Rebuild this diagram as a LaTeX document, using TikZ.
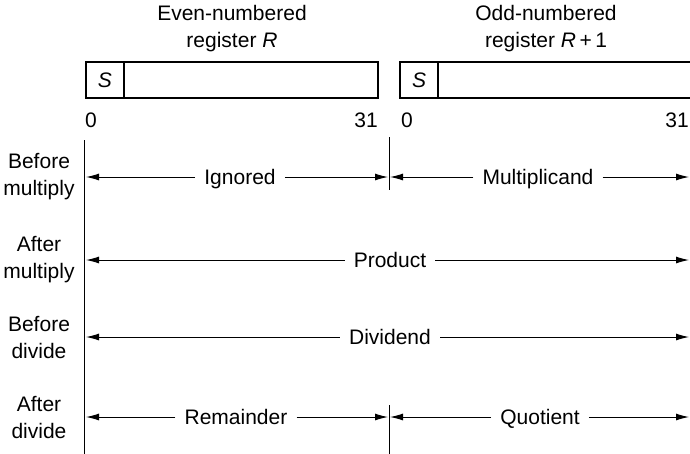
\documentclass[tikz,border=0pt]{standalone}
\usepackage{fontspec}
\setmainfont{Liberation Sans}
\usetikzlibrary{arrows.meta}
\tikzset{
  regbox/.style={line width=1.3pt},
  dimline/.style={line width=1pt,-{Latex[length=13pt,width=7pt]}},
  field/.style={inner xsep=9pt,inner ysep=0pt,text height=15pt,text depth=0pt},
  rowlabel/.style={align=center,inner sep=0pt},
}
\begin{document}
\begin{tikzpicture}[x=1pt,y=-1pt,font=\fontsize{21}{27}\selectfont]
  \useasboundingbox (0,0) rectangle (690,453);
  % register headings
  \node[align=center] (evenhd) at (232,29) {Even-numbered\\register \textit{R}};
  \node[align=center] (oddhd) at (546,29) {Odd-numbered\\register \textit{R}\,+\,1};
  % the two registers
  \draw[regbox] (86,62) rectangle (378,98);
  \draw[regbox] (124,62) -- (124,98);
  \node (evens) at (105,80) {\textit{S}};
  \draw[regbox] (400,62) rectangle (696,98);
  \draw[regbox] (438,62) -- (438,98);
  \node (odds) at (419,80) {\textit{S}};
  % bit numbers
  \node (e0) at (91,120) {0};
  \node (e31) at (366,120) {31};
  \node (o0) at (407,120) {0};
  \node (o31) at (677,120) {31};
  % boundaries
  \draw[line width=1pt] (84,140) -- (84,455);
  \draw[line width=1pt] (389,137) -- (389,190);
  \draw[line width=1pt] (389,405) -- (389,455);
  % row labels
  \node[rowlabel] (bmul) at (39,177) {Before\\multiply};
  \node[rowlabel] (amul) at (39,260) {After\\multiply};
  \node[rowlabel] (bdiv) at (39,337) {Before\\divide};
  \node[rowlabel] (adiv) at (39,417) {After\\divide};
  % whole 64-bit fields
  \foreach \y/\txt/\nm in {260/Product/prod,337/Dividend/divd}{
    \coordinate (\nm-l) at (86,\y);
    \coordinate (\nm-r) at (689,\y);
    \node[field] (\nm) at (390,\y) {\txt};
    \draw[dimline] (\nm) -- (\nm-l);
    \draw[dimline] (\nm) -- (\nm-r);
  }
  % split fields
  \foreach \y/\ltxt/\lx/\rtxt/\rx/\nm in {177/Ignored/240/Multiplicand/538/mul,
                                         417/Remainder/236/Quotient/540/div}{
    \coordinate (\nm-a) at (86,\y);
    \coordinate (\nm-b) at (388,\y);
    \coordinate (\nm-c) at (390,\y);
    \coordinate (\nm-d) at (689,\y);
    \node[field] (\nm-lo) at (\lx,\y) {\ltxt};
    \node[field] (\nm-hi) at (\rx,\y) {\rtxt};
    \draw[dimline] (\nm-lo) -- (\nm-a);
    \draw[dimline] (\nm-lo) -- (\nm-b);
    \draw[dimline] (\nm-hi) -- (\nm-c);
    \draw[dimline] (\nm-hi) -- (\nm-d);
  }
\end{tikzpicture}
\end{document}
